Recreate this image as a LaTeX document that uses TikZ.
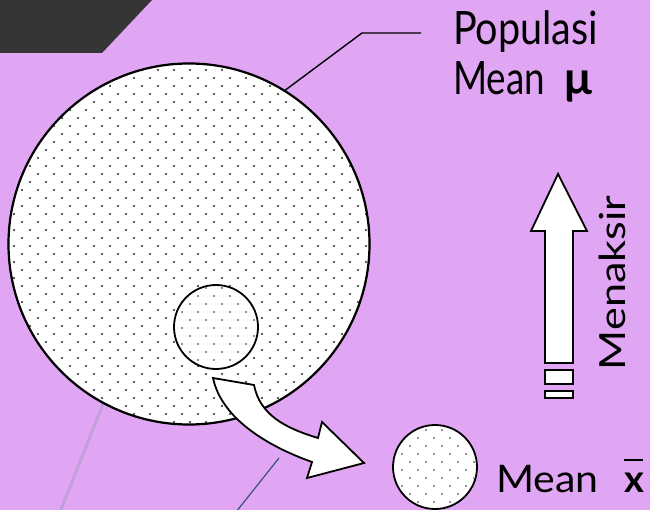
\documentclass[tikz,border=0pt]{standalone}
\usepackage{fontspec}
\setmainfont{Lato}
\definecolor{bgpurple}{RGB}{224,166,244}
\definecolor{darkpoly}{RGB}{53,53,53}
\definecolor{lavline}{RGB}{192,160,218}
\definecolor{blueline}{RGB}{58,82,120}
\begin{document}
\begin{tikzpicture}[x=1pt,y=-1pt,
  disc/.style={circle, draw=black, inner sep=0pt, fill=white},
  dotfill/.style={fill=black!85},
  whiteshape/.style={draw=black, line width=1.8pt, fill=white, line join=miter},
  leader/.style={draw=black, line width=1.4pt},
  bigtext/.style={font=\fontsize{46}{54}\selectfont, inner sep=0pt},
  sidetext/.style={font=\fontsize{36}{42}\selectfont, inner sep=0pt},
  meantext/.style={font=\fontsize{38}{44}\selectfont, inner sep=0pt}]
\useasboundingbox (0,0) rectangle (650,510);
\fill[bgpurple] (0,0) rectangle (650,510);
\fill[darkpoly] (0,0) -- (152,0) -- (102,53) -- (0,53) -- cycle;
% faint lines at the bottom
\coordinate (l1a) at (103,404); \coordinate (l1b) at (60,512);
\coordinate (l2a) at (279,458); \coordinate (l2b) at (236,512);
\draw[lavline, line width=3pt] (l1a) -- (l1b);
\draw[blueline, line width=1.2pt] (l2a) -- (l2b);
% population
\node[disc, minimum size=362pt] (pop) at (189,244) {};
\begin{scope}
  \clip (189,244) circle (180);
  \foreach \j in {0,...,46} {
    \pgfmathsetmacro{\yy}{62+8*\j}
    \pgfmathsetmacro{\off}{mod(\j,2)*8}
    \foreach \i in {0,...,23} {
      \fill[dotfill] (6+\off+16*\i,\yy) circle (1.15);
    }
  }
\end{scope}
\draw[line width=2.2pt] (pop) circle (180.5);
\node[disc, minimum size=84pt] (samp) at (216,327) {};
\begin{scope}
  \clip (216,327) circle (41);
  \foreach \j in {0,...,11} {
    \pgfmathsetmacro{\yy}{288+8*\j}
    \pgfmathsetmacro{\off}{mod(\j,2)*8}
    \foreach \i in {0,...,6} {
      \fill[dotfill] (174+\off+16*\i,\yy) circle (0.95);
    }
  }
\end{scope}
\draw[line width=1.8pt] (samp) circle (42);
% curved arrow
\path[whiteshape] (213,378) -- (254,385) .. controls (260,415) and (285,428) .. (318,438)
  -- (322,422) -- (364,463) -- (307,478) -- (312,462)
  .. controls (270,447) and (222,420) .. (213,378) -- cycle;
% sample
\node[disc, minimum size=84pt] (samp2) at (435,467) {};
\begin{scope}
  \clip (435,467) circle (41);
  \foreach \j in {0,...,11} {
    \pgfmathsetmacro{\yy}{430+8*\j}
    \pgfmathsetmacro{\off}{mod(\j,2)*8}
    \foreach \i in {0,...,6} {
      \fill[dotfill] (394+\off+16*\i,\yy) circle (0.95);
    }
  }
\end{scope}
\draw[line width=1.8pt] (samp2) circle (42);
% up arrow
\path[whiteshape] (545,363) -- (545,231) -- (531,231) -- (558,174) -- (587,231)
  -- (573,231) -- (573,363) -- cycle;
\path[whiteshape] (545,370) rectangle (573,384);
\path[whiteshape] (545,391) rectangle (573,398);
% labels
\coordinate (le) at (421,33);
\draw[leader] (pop.58) -- (362,33) -- (le);
\node[bigtext, anchor=base west] (poplab) at (453,45) {\scalebox{0.86}[1]{Populasi}};
\node[bigtext, anchor=base west] (mulab) at (453,95) {\scalebox{0.8}[1]{Mean}\hspace{19pt}\textbf{μ}};
\node[sidetext, rotate=90, anchor=base] (menaksir) at (625,283) {\scalebox{1.2}[1]{Menaksir}};
\node[meantext, anchor=base west] (xlab) at (496,492) {\scalebox{1.08}[1]{Mean}};
\node[meantext, anchor=base west] (xbar) at (624,492) {\makebox[0pt][l]{\raisebox{31pt}{\rule{19pt}{2.4pt}}}\textbf{x}};
\end{tikzpicture}
\end{document}
